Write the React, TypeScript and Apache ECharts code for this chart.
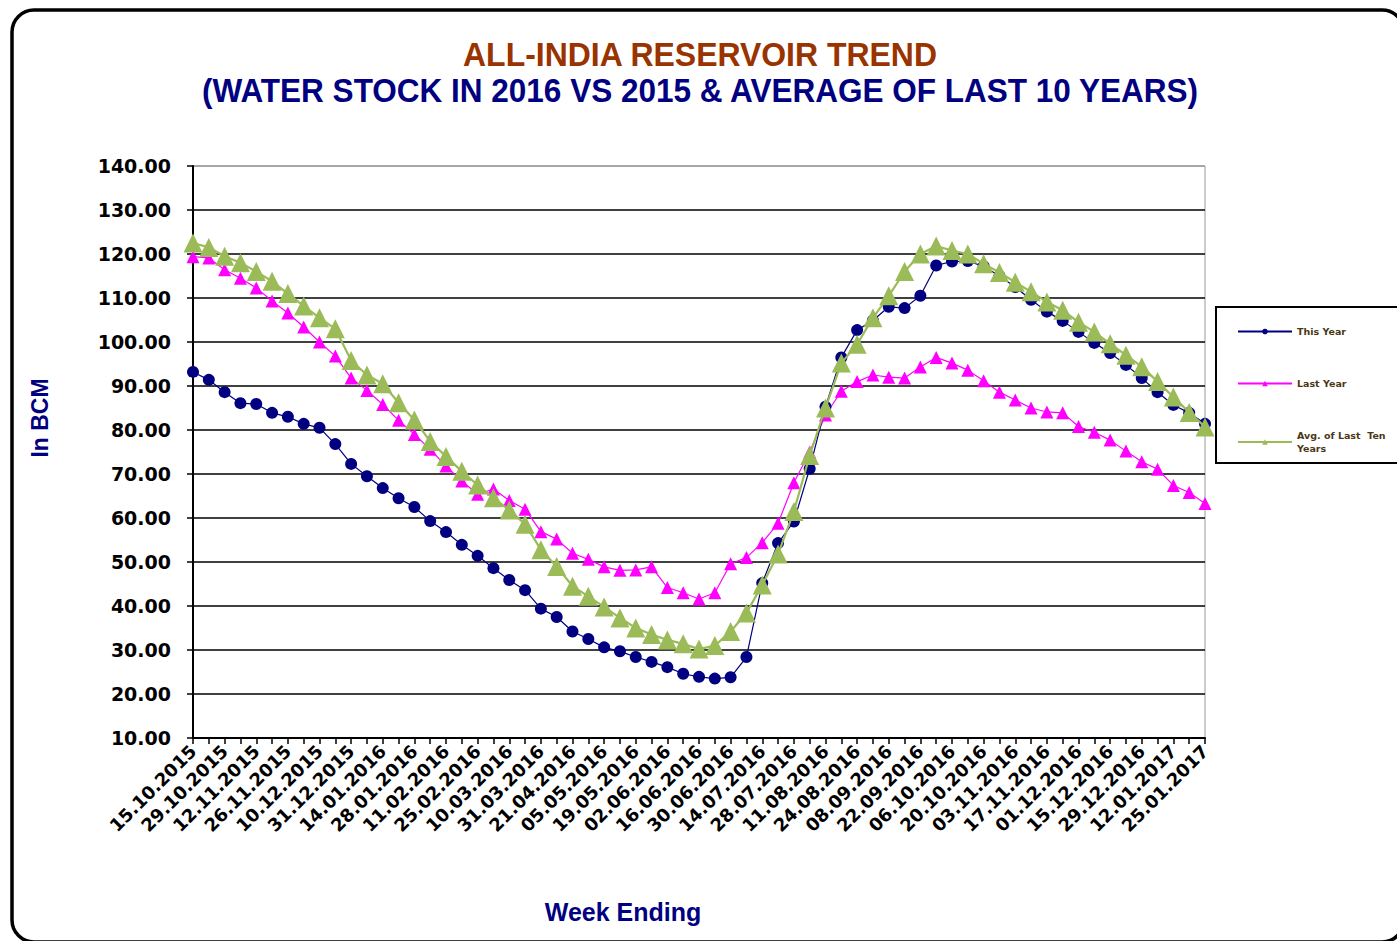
import React, { useEffect, useRef } from "react";
import * as echarts from "echarts";

const weeks: string[] = [
  "15.10.2015", "22.10.2015", "29.10.2015", "05.11.2015", "12.11.2015", "19.11.2015",
  "26.11.2015", "03.12.2015", "10.12.2015", "17.12.2015", "31.12.2015", "07.01.2016",
  "14.01.2016", "21.01.2016", "28.01.2016", "04.02.2016", "11.02.2016", "18.02.2016",
  "25.02.2016", "03.03.2016", "10.03.2016", "17.03.2016", "31.03.2016", "07.04.2016",
  "21.04.2016", "28.04.2016", "05.05.2016", "12.05.2016", "19.05.2016", "26.05.2016",
  "02.06.2016", "09.06.2016", "16.06.2016", "23.06.2016", "30.06.2016", "07.07.2016",
  "14.07.2016", "21.07.2016", "28.07.2016", "04.08.2016", "11.08.2016", "18.08.2016",
  "24.08.2016", "01.09.2016", "08.09.2016", "15.09.2016", "22.09.2016", "29.09.2016",
  "06.10.2016", "13.10.2016", "20.10.2016", "27.10.2016", "03.11.2016", "10.11.2016",
  "17.11.2016", "24.11.2016", "01.12.2016", "08.12.2016", "15.12.2016", "22.12.2016",
  "29.12.2016", "05.01.2017", "12.01.2017", "19.01.2017", "25.01.2017",
];

const thisYear: number[] = [
  93.2, 91.4, 88.6, 86.1, 85.9, 83.9, 83.0, 81.4, 80.5, 76.8,
  72.3, 69.5, 66.8, 64.5, 62.5, 59.3, 56.8, 53.9, 51.4, 48.6,
  45.9, 43.6, 39.4, 37.5, 34.2, 32.5, 30.6, 29.7, 28.4, 27.3,
  26.1, 24.6, 23.9, 23.5, 23.8, 28.4, 45.2, 54.3, 59.2, 71.2,
  85.3, 96.5, 102.7, 104.9, 108.0, 107.7, 110.5, 117.4, 118.3, 118.4,
  117.2, 115.0, 112.5, 109.6, 106.9, 104.8, 102.3, 99.8, 97.5, 94.8,
  91.8, 88.6, 85.7, 83.9, 81.4,
];

const lastYear: number[] = [
  119.4, 119.1, 116.4, 114.5, 112.3, 109.3, 106.6, 103.4, 100.0, 96.8,
  91.8, 89.0, 85.8, 82.2, 79.0, 75.6, 71.8, 68.4, 65.4, 66.6,
  64.0, 62.0, 56.9, 55.2, 52.0, 50.6, 48.9, 48.1, 48.2, 48.9,
  44.2, 43.0, 41.6, 43.0, 49.6, 51.0, 54.4, 58.8, 68.0, 75.0,
  83.4, 88.8, 91.0, 92.5, 92.0, 91.8, 94.3, 96.5, 95.2, 93.6,
  91.2, 88.6, 86.8, 85.0, 84.1, 83.9, 80.8, 79.5, 77.7, 75.2,
  72.8, 71.1, 67.4, 65.8, 63.3,
];

const avgTenYears: number[] = [
  122.5, 121.5, 119.5, 118.0, 116.0, 113.8, 111.0, 108.2, 105.5, 103.0,
  95.8, 92.5, 90.5, 86.2, 82.3, 77.4, 74.0, 70.6, 67.5, 64.6,
  61.8, 58.6, 52.8, 49.0, 44.5, 42.2, 39.8, 37.3, 35.0, 33.5,
  32.3, 31.4, 30.2, 31.0, 34.2, 38.4, 44.8, 51.8, 61.5, 74.2,
  85.0, 95.2, 99.5, 105.5, 110.5, 116.0, 120.0, 121.8, 120.8, 120.0,
  117.8, 115.8, 113.6, 111.4, 109.1, 107.2, 104.5, 102.3, 99.6, 97.0,
  94.4, 91.0, 87.5, 84.0, 80.7,
];

const seriesNames: string[] = ["This Year", "Last Year", "Avg. of Last  Ten\nYears"];
const yMin = 10;
const yMax = 140;
const yStep = 10;

export default function App() {
  const ref = useRef<HTMLDivElement>(null);

  useEffect(() => {
    if (!ref.current) return;
    const chart = echarts.init(ref.current, null, { renderer: "svg" });
    const gridColors: string[] = [];
    for (let v = yMin; v <= yMax; v += yStep) gridColors.push(v === yMax ? "#9a9a9a" : "#000000");

    chart.setOption({
      animation: false,
      backgroundColor: "#ffffff",
      grid: {
        left: 193,
        right: 192,
        top: 166,
        bottom: 203,
        show: true,
        borderColor: "#9a9a9a",
        borderWidth: 1,
        backgroundColor: "#ffffff",
      },
      legend: {
        orient: "vertical",
        left: 1232,
        top: 320,
        itemWidth: 54,
        itemHeight: 7,
        itemGap: 39,
        data: seriesNames,
        textStyle: {
          fontFamily: "DejaVu Sans, sans-serif",
          fontWeight: "bold",
          fontSize: 9.5,
          lineHeight: 13,
          color: "#4a3816",
        },
      },
      xAxis: {
        type: "category",
        data: weeks,
        boundaryGap: false,
        axisLine: { lineStyle: { color: "#000", width: 2 } },
        axisTick: { show: true, interval: 0, length: 6, lineStyle: { color: "#000", width: 1.5 } },
        axisLabel: {
          interval: 1,
          rotate: 45,
          margin: 10,
          fontFamily: "DejaVu Sans, sans-serif",
          fontWeight: "bold",
          fontSize: 18,
          color: "#000",
        },
        splitLine: { show: false },
      },
      yAxis: {
        type: "value",
        min: yMin,
        max: yMax,
        interval: yStep,
        axisLine: { show: true, lineStyle: { color: "#000", width: 2 } },
        axisTick: { show: true, length: 6, lineStyle: { color: "#000", width: 1.5 } },
        axisLabel: {
          formatter: (v: number) => v.toFixed(2),
          margin: 22,
          fontFamily: "DejaVu Sans, sans-serif",
          fontWeight: "bold",
          fontSize: 19,
          color: "#000",
        },
        splitLine: { show: true, lineStyle: { color: gridColors, width: 1.6 } },
      },
      series: [
        {
          name: seriesNames[0],
          type: "line",
          data: thisYear,
          symbol: "circle",
          symbolSize: 12,
          showAllSymbol: true,
          z: 3,
          itemStyle: { color: "#000080" },
          lineStyle: { color: "#000080", width: 1.2 },
        },
        {
          name: seriesNames[1],
          type: "line",
          data: lastYear,
          symbol: "triangle",
          symbolSize: 13,
          showAllSymbol: true,
          z: 2,
          itemStyle: { color: "#ff00ff" },
          lineStyle: { color: "#ff00ff", width: 1.2 },
        },
        {
          name: seriesNames[2],
          type: "line",
          data: avgTenYears,
          symbol: "triangle",
          symbolSize: 19,
          showAllSymbol: true,
          z: 4,
          itemStyle: { color: "#9bbb59" },
          lineStyle: { color: "#9bbb59", width: 2.2 },
        },
      ],
      graphic: [
        {
          type: "rect",
          shape: { x: 12, y: 10, width: 1392, height: 932, r: 22 },
          style: { fill: "none", stroke: "#000", lineWidth: 3.5 },
          z: 10,
        },
        {
          type: "rect",
          shape: { x: 1216, y: 307, width: 200, height: 156 },
          style: { fill: "none", stroke: "#000", lineWidth: 2 },
          z: 10,
        },
        {
          type: "text",
          x: 700,
          y: 54,
          scaleX: 0.94,
          style: {
            text: "ALL-INDIA RESERVOIR TREND",
            font: "bold 34px 'Liberation Sans', Arial, sans-serif",
            fill: "#993300",
            align: "center",
            verticalAlign: "middle",
          },
        },
        {
          type: "text",
          x: 700,
          y: 90,
          scaleX: 0.927,
          style: {
            text: "(WATER STOCK IN 2016 VS 2015 & AVERAGE OF LAST 10 YEARS)",
            font: "bold 34px 'Liberation Sans', Arial, sans-serif",
            fill: "#000080",
            align: "center",
            verticalAlign: "middle",
          },
        },
        {
          type: "text",
          x: 40,
          y: 418,
          rotation: Math.PI / 2,
          style: {
            text: "In BCM",
            font: "bold 23px 'Liberation Sans', Arial, sans-serif",
            fill: "#000080",
            align: "center",
            verticalAlign: "middle",
          },
        },
        {
          type: "text",
          x: 623,
          y: 912,
          style: {
            text: "Week Ending",
            font: "bold 25px 'Liberation Sans', Arial, sans-serif",
            fill: "#000080",
            align: "center",
            verticalAlign: "middle",
          },
        },
      ],
    });
    return () => chart.dispose();
  }, []);

  return (
    <div
      ref={ref}
      style={{ position: "fixed", left: 0, top: 0, width: 1397, height: 941, background: "#fff" }}
    />
  );
}
